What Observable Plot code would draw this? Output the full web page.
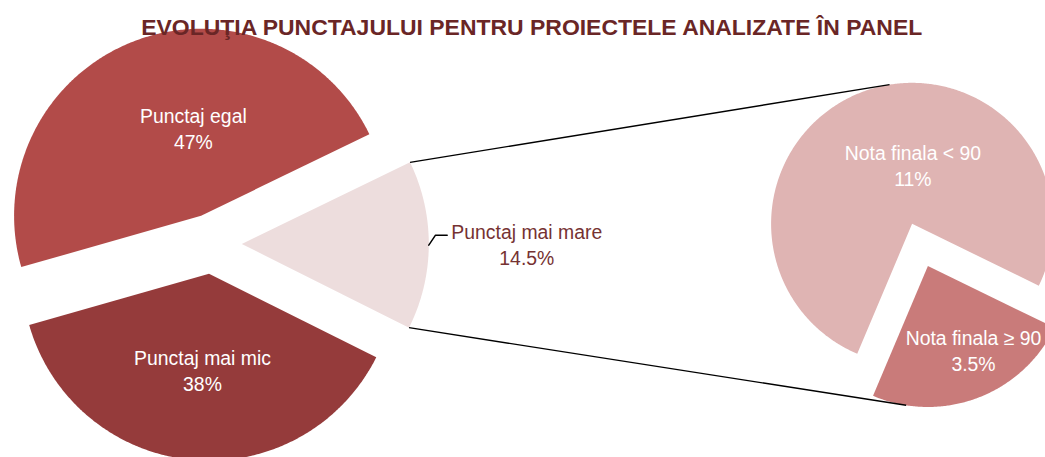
<!DOCTYPE html>
<html><head><meta charset="utf-8">
<script src="https://cdn.jsdelivr.net/npm/d3@7"></script>
<script src="https://cdn.jsdelivr.net/npm/@observablehq/plot@0.6"></script>
<style>
html,body{margin:0;padding:0;background:#fff;}
#chart svg{display:block;}
</style></head><body><div id="chart"></div>
<script>
// ---- data ----
const title = "EVOLUŢIA PUNCTAJULUI PENTRU PROIECTELE ANALIZATE ÎN PANEL";
const mainCategories = ["Punctaj mai mare", "Punctaj mai mic", "Punctaj egal"];
const mainValues = [14.5, 38, 47];
const secondaryCategories = ["Nota finala ≥ 90", "Nota finala < 90"];
const secondaryValues = [3.5, 11];
const pct = v => String(v) + "%";

// ---- layout / style ----
const W = 1045, H = 457;
const FONT = "'Liberation Sans', Arial, sans-serif";
const mainPie = {cx: 211.3, cy: 243.3, r: 187, explode: 30, start: 64.12};
const secPie = {cx: 919.5, cy: 244.4, r: 141, explode: 22.5, start: 116};
const colorDomain = [...mainCategories, ...secondaryCategories];
const colorRange = ["#EDDDDD", "#953B3B", "#B24B49", "#C97B7A", "#DFB4B3"];
// label placement: [angle (deg, clockwise from north), distance from slice centre]
const labelPolar = {
  "Punctaj egal": [355.0, 88.7],
  "Punctaj mai mic": [183.9, 96.0],
  "Punctaj mai mare": [90, 285],
  "Nota finala < 90": [0.8, 58.7],
  "Nota finala ≥ 90": [151.4, 95.2]
};
const outside = new Set(["Punctaj mai mare"]);

function dir(deg) { const a = deg * Math.PI / 180; return [Math.sin(a), -Math.cos(a)]; }

function slices(cats, vals, pie) {
  const total = d3.sum(vals);
  let a = pie.start;
  return cats.map((c, i) => {
    const span = vals[i] / total * 360;
    const a0 = a, a1 = a + span; a = a1;
    const mid = (a0 + a1) / 2;
    const [ux, uy] = dir(mid);
    return {category: c, value: vals[i], a0, a1, mid,
      cx: pie.cx + pie.explode * ux, cy: pie.cy + pie.explode * uy, r: pie.r};
  });
}

const mainSlices = slices(mainCategories, mainValues, mainPie);
const secSlices = slices(secondaryCategories, secondaryValues, secPie);
const allSlices = [...mainSlices, ...secSlices];

// polygon points for every slice
const polyPoints = [];
for (const s of allSlices) {
  polyPoints.push({category: s.category, x: s.cx, y: s.cy});
  const n = Math.ceil((s.a1 - s.a0) / 0.5);
  for (let k = 0; k <= n; k++) {
    const a = s.a0 + (s.a1 - s.a0) * k / n;
    const [ux, uy] = dir(a);
    polyPoints.push({category: s.category, x: s.cx + s.r * ux, y: s.cy + s.r * uy});
  }
  polyPoints.push({category: s.category, x: s.cx, y: s.cy});
}

// labels
const labels = allSlices.map(s => {
  const [ang, dist] = labelPolar[s.category];
  const [ux, uy] = dir(ang);
  return {category: s.category, text: s.category + "\n" + pct(s.value),
    x: s.cx + dist * ux, y: s.cy + dist * uy, outside: outside.has(s.category)};
});

// connector lines (tangents from the aggregated slice to the secondary pie)
function tangent(P, O, r, upper) {
  const dx = P[0] - O[0], dy = P[1] - O[1], d = Math.hypot(dx, dy);
  const th = Math.atan2(dy, dx), al = Math.acos(r / d);
  const t1 = [O[0] + r * Math.cos(th + al), O[1] + r * Math.sin(th + al)];
  const t2 = [O[0] + r * Math.cos(th - al), O[1] + r * Math.sin(th - al)];
  return upper ? (t1[1] < t2[1] ? t1 : t2) : (t1[1] > t2[1] ? t1 : t2);
}
const agg = mainSlices[0];
const big = secSlices.find(s => s.category === "Nota finala < 90");
const small = secSlices.find(s => s.category === "Nota finala ≥ 90");
const pA = [agg.cx + agg.r * dir(agg.a0)[0], agg.cy + agg.r * dir(agg.a0)[1]];
const pB = [agg.cx + agg.r * dir(agg.a1)[0], agg.cy + agg.r * dir(agg.a1)[1]];
const tA = tangent(pA, [big.cx, big.cy], big.r, true);
const tB = tangent(pB, [small.cx, small.cy], small.r, false);
const connectors = [
  {x1: pA[0], y1: pA[1], x2: tA[0], y2: tA[1]},
  {x1: pB[0], y1: pB[1], x2: tB[0], y2: tB[1]}
];

// leader line for outside label
const aggLabel = labels.find(d => d.category === "Punctaj mai mare");
const leaderStart = [agg.cx + agg.r * dir(agg.mid)[0], agg.cy + agg.r * dir(agg.mid)[1]];
const leader = [
  {x: leaderStart[0], y: leaderStart[1]},
  {x: aggLabel.x - 91.3, y: aggLabel.y - 8.8},
  {x: aggLabel.x - 79.6, y: aggLabel.y - 8.8}
];

const chart = Plot.plot({
  width: W, height: H,
  margin: 0,
  style: {fontFamily: FONT, background: "#fff"},
  x: {domain: [0, W], range: [0, W], axis: null},
  y: {domain: [0, H], range: [0, H], axis: null},
  color: {domain: colorDomain, range: colorRange},
  marks: [
    Plot.line(polyPoints, {x: "x", y: "y", z: "category", fill: "category", stroke: "none", curve: "linear"}),
    Plot.link(connectors, {x1: "x1", y1: "y1", x2: "x2", y2: "y2", stroke: "#000", strokeWidth: 1.4}),
    Plot.line(leader, {x: "x", y: "y", stroke: "#000", strokeWidth: 1.5, curve: "linear"}),
    Plot.text(labels.filter(d => !d.outside), {x: "x", y: "y", text: "text", fill: "#FFFFFF",
      fontSize: 19.4, lineHeight: 1.34, textAnchor: "middle", fontFamily: FONT}),
    Plot.text(labels.filter(d => d.outside), {x: "x", y: "y", text: "text", fill: "#763232",
      fontSize: 19.4, lineHeight: 1.34, textAnchor: "middle", fontFamily: FONT}),
    Plot.text([title], {x: 531.2, y: 34.3, text: d => d, lineAnchor: "bottom", fill: "#6A2626",
      fontSize: 22.8, fontWeight: "bold", textAnchor: "middle", fontFamily: FONT})
  ]
});
document.getElementById("chart").appendChild(chart);
// fit title to its measured width
d3.select(chart).selectAll("text").filter(function () { return this.textContent === title; })
  .attr("textLength", 781).attr("lengthAdjust", "spacingAndGlyphs");
</script></body></html>
